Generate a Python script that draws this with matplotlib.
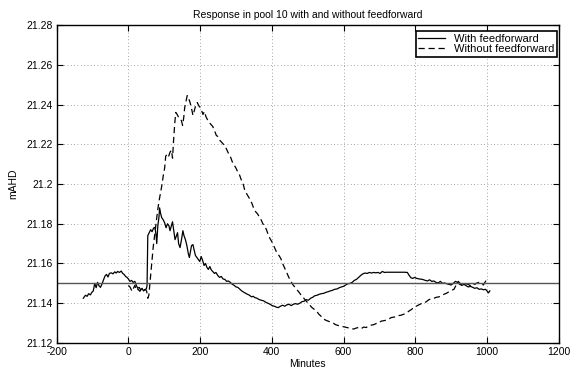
import matplotlib
matplotlib.use("Agg")
import matplotlib.pyplot as plt
from matplotlib.ticker import FuncFormatter

plt.rcParams["font.family"] = ["Liberation Sans", "DejaVu Sans"]

# with feedforward (solid)
with_pts = [
    (-126, 21.1425), (-120, 21.1440), (-115, 21.1435), (-111, 21.1448), (-106, 21.1442),
    (-102, 21.1455), (-98, 21.1462), (-94, 21.1500), (-90, 21.1478), (-86, 21.1505),
    (-82, 21.1488), (-78, 21.1480), (-74, 21.1495), (-69, 21.1520), (-65, 21.1538),
    (-61, 21.1545), (-57, 21.1532), (-53, 21.1550), (-48, 21.1553), (-43, 21.1548),
    (-38, 21.1558), (-34, 21.1552), (-30, 21.1560), (-25, 21.1555), (-20, 21.1562),
    (-16, 21.1550), (-12, 21.1545), (-8, 21.1535), (-4, 21.1530), (0, 21.1522),
    (4, 21.1510), (9, 21.1515), (13, 21.1505), (18, 21.1510), (22, 21.1490),
    (26, 21.1475), (30, 21.1480), (34, 21.1468), (38, 21.1475), (42, 21.1462),
    (46, 21.1468), (50, 21.1472), (52, 21.1490), (54, 21.1740), (58, 21.1755),
    (62, 21.1770), (66, 21.1760), (70, 21.1778), (74, 21.1782), (77, 21.1745),
    (79, 21.1700), (82, 21.1790), (85, 21.1830), (87, 21.1880), (90, 21.1850),
    (93, 21.1830), (97, 21.1820), (101, 21.1805), (105, 21.1780), (109, 21.1800),
    (113, 21.1790), (116, 21.1765), (120, 21.1790), (123, 21.1810), (127, 21.1760),
    (130, 21.1720), (134, 21.1740), (137, 21.1755), (140, 21.1700), (144, 21.1680),
    (148, 21.1720), (152, 21.1765), (155, 21.1740), (159, 21.1720), (163, 21.1690),
    (167, 21.1650), (170, 21.1630), (173, 21.1660), (176, 21.1690), (180, 21.1695),
    (183, 21.1670), (187, 21.1640), (191, 21.1630), (195, 21.1620), (199, 21.1610),
    (203, 21.1635), (207, 21.1615), (211, 21.1590), (215, 21.1600), (219, 21.1580),
    (223, 21.1570), (227, 21.1585), (231, 21.1568), (235, 21.1560), (240, 21.1550),
    (244, 21.1555), (249, 21.1540), (254, 21.1530), (259, 21.1535), (264, 21.1522),
    (269, 21.1520), (274, 21.1510), (279, 21.1512), (284, 21.1505), (290, 21.1495),
    (295, 21.1490), (300, 21.1482), (305, 21.1480), (311, 21.1470), (316, 21.1462),
    (322, 21.1455), (327, 21.1450), (332, 21.1445), (338, 21.1440), (343, 21.1432),
    (348, 21.1435), (353, 21.1428), (359, 21.1425), (365, 21.1418), (371, 21.1415),
    (377, 21.1412), (383, 21.1405), (389, 21.1400), (395, 21.1395), (401, 21.1388),
    (407, 21.1385), (413, 21.1380), (418, 21.1378), (424, 21.1385), (430, 21.1390),
    (436, 21.1385), (442, 21.1392), (448, 21.1395), (454, 21.1388), (460, 21.1395),
    (466, 21.1398), (472, 21.1395), (478, 21.1400), (484, 21.1408), (490, 21.1410),
    (496, 21.1418), (502, 21.1415), (508, 21.1425), (514, 21.1430), (520, 21.1438),
    (526, 21.1440), (532, 21.1445), (538, 21.1448), (545, 21.1450), (551, 21.1455),
    (557, 21.1458), (563, 21.1462), (569, 21.1465), (575, 21.1470), (582, 21.1472),
    (588, 21.1478), (594, 21.1482), (600, 21.1485), (606, 21.1492), (612, 21.1498),
    (618, 21.1500), (624, 21.1505), (630, 21.1515), (636, 21.1520), (642, 21.1530),
    (648, 21.1540), (654, 21.1548), (660, 21.1552), (666, 21.1550), (672, 21.1555),
    (678, 21.1552), (684, 21.1555), (690, 21.1553), (696, 21.1555), (702, 21.1550),
    (708, 21.1560), (714, 21.1555), (720, 21.1556), (730, 21.1556), (740, 21.1556),
    (750, 21.1556), (760, 21.1556), (770, 21.1556), (778, 21.1555), (783, 21.1540),
    (788, 21.1528), (793, 21.1525), (798, 21.1530), (804, 21.1525), (812, 21.1522),
    (820, 21.1520), (828, 21.1515), (834, 21.1512), (840, 21.1518), (846, 21.1510),
    (852, 21.1512), (858, 21.1505), (864, 21.1502), (870, 21.1510), (876, 21.1500),
    (882, 21.1502), (888, 21.1498), (894, 21.1495), (900, 21.1492), (906, 21.1500),
    (912, 21.1510), (918, 21.1505), (924, 21.1495), (930, 21.1490), (936, 21.1495),
    (942, 21.1488), (948, 21.1482), (954, 21.1485), (960, 21.1480), (966, 21.1475),
    (972, 21.1478), (978, 21.1470), (984, 21.1472), (990, 21.1468), (996, 21.1470),
    (1000, 21.1462), (1004, 21.1452), (1008, 21.1462),
]

# without feedforward (dashed)
without_pts = [
    (0, 21.1490), (5, 21.1480), (10, 21.1460), (14, 21.1475), (18, 21.1490),
    (22, 21.1465), (27, 21.1470), (32, 21.1460), (37, 21.1475), (42, 21.1465),
    (47, 21.1470), (51, 21.1460), (54, 21.1425), (57, 21.1440), (61, 21.1520),
    (65, 21.1600), (69, 21.1680), (73, 21.1740), (77, 21.1800), (81, 21.1860),
    (85, 21.1910), (89, 21.1950), (93, 21.1990), (97, 21.2040), (101, 21.2080),
    (104, 21.2140), (108, 21.2150), (112, 21.2138), (116, 21.2160), (120, 21.2170),
    (123, 21.2130), (126, 21.2220), (129, 21.2300), (132, 21.2360), (136, 21.2350),
    (140, 21.2335), (144, 21.2330), (148, 21.2318), (151, 21.2295), (154, 21.2330),
    (157, 21.2385), (161, 21.2420), (164, 21.2445), (168, 21.2430), (172, 21.2410),
    (176, 21.2380), (180, 21.2345), (184, 21.2370), (188, 21.2400), (192, 21.2410),
    (196, 21.2395), (200, 21.2385), (204, 21.2370), (208, 21.2350), (212, 21.2365),
    (216, 21.2340), (220, 21.2325), (225, 21.2310), (230, 21.2300), (235, 21.2290),
    (240, 21.2270), (245, 21.2245), (250, 21.2238), (255, 21.2220), (260, 21.2210),
    (265, 21.2200), (270, 21.2190), (275, 21.2170), (280, 21.2150), (285, 21.2135),
    (290, 21.2110), (295, 21.2095), (300, 21.2080), (305, 21.2060), (310, 21.2045),
    (315, 21.2020), (320, 21.2000), (325, 21.1965), (330, 21.1950), (335, 21.1935),
    (340, 21.1920), (345, 21.1900), (350, 21.1875), (355, 21.1860), (360, 21.1850),
    (365, 21.1835), (370, 21.1820), (375, 21.1800), (380, 21.1790), (385, 21.1770),
    (390, 21.1745), (395, 21.1725), (400, 21.1710), (405, 21.1690), (410, 21.1670),
    (415, 21.1650), (420, 21.1640), (425, 21.1625), (430, 21.1600), (435, 21.1580),
    (440, 21.1560), (445, 21.1540), (450, 21.1520), (455, 21.1505), (460, 21.1490),
    (465, 21.1480), (470, 21.1468), (476, 21.1455), (482, 21.1440), (488, 21.1428),
    (494, 21.1415), (500, 21.1402), (506, 21.1390), (512, 21.1378), (518, 21.1370),
    (525, 21.1360), (531, 21.1345), (537, 21.1335), (543, 21.1322), (550, 21.1315),
    (557, 21.1310), (564, 21.1305), (571, 21.1300), (578, 21.1292), (585, 21.1288),
    (592, 21.1285), (600, 21.1282), (607, 21.1278), (614, 21.1275), (621, 21.1272),
    (628, 21.1270), (635, 21.1275), (642, 21.1278), (649, 21.1272), (656, 21.1280),
    (663, 21.1278), (670, 21.1285), (677, 21.1290), (684, 21.1292), (691, 21.1298),
    (698, 21.1300), (705, 21.1310), (712, 21.1312), (719, 21.1315), (726, 21.1320),
    (733, 21.1328), (740, 21.1330), (747, 21.1332), (754, 21.1338), (761, 21.1340),
    (768, 21.1345), (775, 21.1350), (782, 21.1360), (789, 21.1368), (796, 21.1378),
    (803, 21.1385), (810, 21.1392), (817, 21.1398), (824, 21.1400), (831, 21.1408),
    (838, 21.1418), (845, 21.1422), (852, 21.1425), (859, 21.1430), (866, 21.1432),
    (873, 21.1438), (880, 21.1445), (887, 21.1450), (894, 21.1458), (901, 21.1465),
    (908, 21.1470), (915, 21.1495), (920, 21.1510), (925, 21.1500), (930, 21.1492),
    (936, 21.1490), (942, 21.1498), (948, 21.1495), (954, 21.1488), (960, 21.1500),
    (966, 21.1495), (972, 21.1502), (978, 21.1505), (984, 21.1498), (990, 21.1492),
    (996, 21.1510), (1000, 21.1525),
]

setpoint = 21.15
x_ticks = [-200, 0, 200, 400, 600, 800, 1000, 1200]
y_ticks = [21.12, 21.14, 21.16, 21.18, 21.2, 21.22, 21.24, 21.26, 21.28]


def main():
    fig = plt.figure(figsize=(5.74, 3.69), dpi=100)
    ax = fig.add_axes([0.0988, 0.0705, 0.8745, 0.8617])

    wx, wy = zip(*with_pts)
    nx, ny = zip(*without_pts)
    ax.plot(wx, wy, color="black", linewidth=0.9, label="With feedforward")
    ax.plot(nx, ny, color="black", linewidth=0.9, linestyle=(0, (5, 3)),
            label="Without feedforward")
    ax.axhline(setpoint, color="#555555", linewidth=1.0)

    ax.set_xlim(-200, 1200)
    ax.set_ylim(21.12, 21.28)
    ax.set_xticks(x_ticks)
    ax.set_yticks(y_ticks)
    ax.yaxis.set_major_formatter(FuncFormatter(lambda v, p: "%g" % round(v, 4)))
    ax.xaxis.set_major_formatter(FuncFormatter(lambda v, p: "%g" % v))
    ax.tick_params(direction="in", length=4, labelsize=7.5, top=True, right=True,
                   width=0.8, pad=3)
    ax.grid(True, linestyle=(0, (1, 3)), color="#888888", linewidth=0.6)
    for s in ax.spines.values():
        s.set_linewidth(1.0)

    ax.set_title("Response in pool 10 with and without feedforward",
                 fontsize=7.5, pad=5)
    ax.set_xlabel("Minutes", fontsize=7.5, labelpad=1)
    ax.set_ylabel("mAHD", fontsize=7.5, labelpad=6)

    leg = ax.legend(loc="upper right", bbox_to_anchor=(0.997, 0.982),
                    fontsize=8, fancybox=False, framealpha=1,
                    edgecolor="black", handlelength=2.4, labelspacing=0.05,
                    borderpad=0.25, borderaxespad=0)
    leg.get_frame().set_linewidth(1.2)

    fig.savefig("out.png", dpi=100)


if __name__ == "__main__":
    main()
